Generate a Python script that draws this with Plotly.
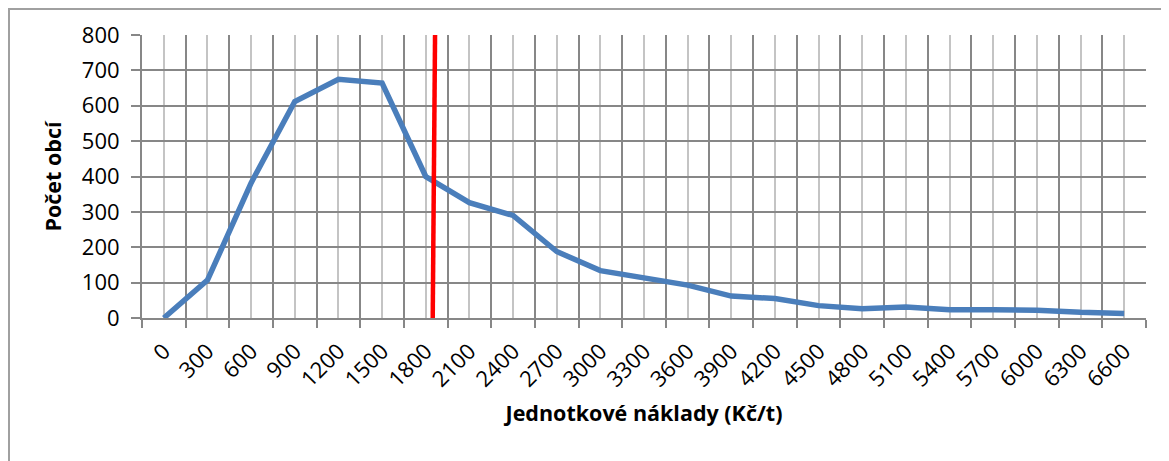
import plotly.graph_objects as go

costs = [0, 300, 600, 900, 1200, 1500, 1800, 2100, 2400, 2700, 3000, 3300,
         3600, 3900, 4200, 4500, 4800, 5100, 5400, 5700, 6000, 6300, 6600]
counts = [0, 107, 382, 612, 675, 664, 400, 326, 290, 188, 134, 112,
          93, 62, 55, 35, 26, 31, 23, 23, 22, 16, 13]
tick_labels = [str(c) for c in costs]
y_ticks = [0, 100, 200, 300, 400, 500, 600, 700, 800]

threshold_cost = [1848, 1864]
threshold_count = [0, 800]

FONT = "Open Sans"
OFF = 8  # default body margin of the html page
W, H = 1169 - OFF, 461 - OFF
ML, MR, MT, MB = 142 - OFF, 23, 35 - OFF, 143
PW, PH = W - ML - MR, H - MT - MB

step = costs[1] - costs[0]
boundaries = [c - step / 2 for c in costs] + [costs[-1] + step / 2]

fig = go.Figure()
fig.add_trace(go.Scatter(x=costs, y=counts, mode="lines",
                         line=dict(color="#4A7EBB", width=5.5),
                         showlegend=False, hoverinfo="skip"))
fig.add_trace(go.Scatter(x=threshold_cost, y=threshold_count, mode="lines",
                         line=dict(color="#FF0000", width=4.5),
                         showlegend=False, hoverinfo="skip"))
fig.add_trace(go.Scatter(x=[boundaries[0], boundaries[-1]], y=[0, 0], mode="markers",
                         marker=dict(opacity=0), xaxis="x2", showlegend=False,
                         hoverinfo="skip"))

xr = [boundaries[0], boundaries[-1]]
TICK_SIZE = 22
TITLE_SIZE = 21.5
fig.update_layout(
    width=W, height=H,
    margin=dict(l=ML, r=MR, t=MT, b=MB, pad=0),
    paper_bgcolor="white", plot_bgcolor="white",
    font=dict(family=FONT, size=TICK_SIZE, color="#000000"),
    xaxis=dict(
        range=xr, tickmode="array", tickvals=costs, ticktext=tick_labels,
        tickangle=-45, ticks="", showgrid=True, gridcolor="#C4C4C4", gridwidth=2,
        zeroline=False, showline=False,
        tickfont=dict(family=FONT, size=TICK_SIZE),
        ticklabelstandoff=15,
        title=dict(text="<b>Jednotkové náklady (Kč/t)</b>",
                   font=dict(family=FONT, size=TITLE_SIZE), standoff=14),
    ),
    xaxis2=dict(
        range=xr, overlaying="x", tickmode="array", tickvals=boundaries,
        showticklabels=False, ticks="outside", ticklen=8, tickwidth=2,
        tickcolor="#878787", showgrid=True, gridcolor="#878787", gridwidth=2,
        zeroline=False, showline=True, linecolor="#878787", linewidth=2,
        anchor="y", side="bottom",
    ),
    yaxis=dict(
        range=[0, 800], tickmode="array", tickvals=y_ticks,
        ticks="outside", ticklen=9, tickwidth=2, tickcolor="#878787",
        showgrid=True, gridcolor="#878787", gridwidth=2,
        zeroline=False, showline=True, linecolor="#878787", linewidth=2,
        tickfont=dict(family=FONT, size=TICK_SIZE),
        ticklabelstandoff=7,
        title=dict(text="<b>Počet obcí</b>", font=dict(family=FONT, size=TITLE_SIZE),
                   standoff=14),
    ),
)

# chart-area border (left and top edges visible, rest outside the window)
fig.add_shape(type="rect", xref="paper", yref="paper",
              x0=(1 - ML) / PW, x1=(W + 40 - ML) / PW,
              y0=(PH + MT - (H + 40)) / PH, y1=(PH + MT - 1) / PH,
              line=dict(color="#A0A0A0", width=2), layer="below")

fig.write_html("out.html")
